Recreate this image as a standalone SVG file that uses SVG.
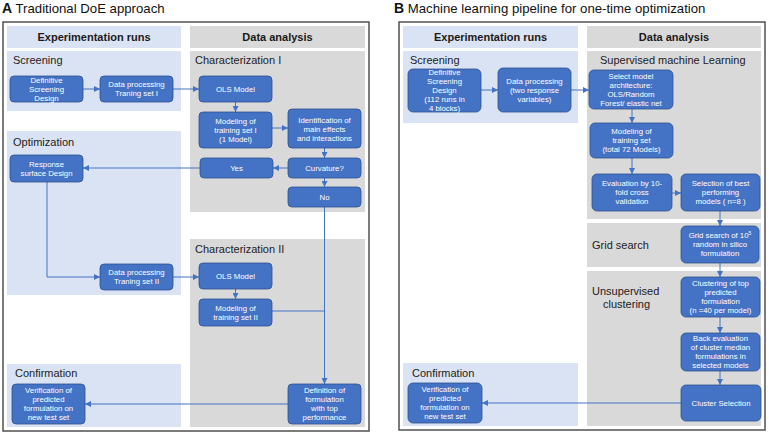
<svg xmlns="http://www.w3.org/2000/svg" width="769" height="433" viewBox="0 0 769 433">
<defs>
<marker id="ah" markerUnits="userSpaceOnUse" markerWidth="6" markerHeight="6" viewBox="0 0 6 6" refX="6" refY="3" orient="auto">
<path d="M0,0 L6,3 L0,6 z" fill="#4472c4"/>
</marker>
<style>
.title{font-family:"Liberation Sans",Arial,sans-serif;font-size:13.2px;fill:#111}
.tb{font-weight:bold}
.frame{fill:#fff;stroke:#505050;stroke-width:1.5}
.bb{fill:#dae3f3}
.bg{fill:#d9d9d9}
.hd{font-family:"Liberation Sans",Arial,sans-serif;font-size:11px;font-weight:bold;fill:#1a1a1a;text-anchor:middle}
.sl{font-family:"Liberation Sans",Arial,sans-serif;font-size:11px;fill:#222}
.nd rect{fill:#4472c4;stroke:#2f528f;stroke-width:0.8}
.nd text{font-family:"Liberation Sans",Arial,sans-serif;font-size:7.8px;fill:#fff;text-anchor:middle}
.cn{fill:none;stroke:#4472c4;stroke-width:1}
</style>
</defs>

<!-- Panel A -->
<text class="title" x="2" y="13"><tspan class="tb" font-size="14">A</tspan> Traditional DoE approach</text>
<rect class="frame" x="3" y="22" width="366" height="409"/>
<rect class="bb" x="7" y="26" width="174" height="22"/>
<rect class="bg" x="190" y="26" width="175" height="22"/>
<text class="hd" x="94" y="41">Experimentation runs</text>
<text class="hd" x="277.5" y="41">Data analysis</text>
<rect class="bb" x="7" y="51" width="174" height="60"/>
<rect class="bg" x="190" y="51" width="175" height="161"/>
<rect class="bb" x="7" y="131" width="174" height="164"/>
<rect class="bg" x="190" y="239" width="175" height="188"/>
<rect class="bb" x="7" y="364" width="174" height="63"/>
<text class="sl" x="13" y="64">Screening</text>
<text class="sl" x="195" y="64">Characterization I</text>
<text class="sl" x="13" y="146">Optimization</text>
<text class="sl" x="195" y="253">Characterization II</text>
<text class="sl" x="15" y="377">Confirmation</text>

<!-- Panel B -->
<text class="title" x="394" y="13"><tspan class="tb" font-size="14">B</tspan> Machine learning pipeline for one-time optimization</text>
<rect class="frame" x="399" y="22" width="366" height="408"/>
<rect class="bb" x="403" y="26" width="175" height="22"/>
<rect class="bg" x="587" y="26" width="174" height="22"/>
<text class="hd" x="490.5" y="41">Experimentation runs</text>
<text class="hd" x="674" y="41">Data analysis</text>
<rect class="bb" x="403" y="51" width="175" height="72"/>
<rect class="bg" x="587" y="51" width="174" height="168"/>
<rect class="bg" x="587" y="223" width="174" height="44"/>
<rect class="bg" x="587" y="271" width="174" height="155"/>
<rect class="bb" x="403" y="363" width="175" height="63"/>
<text class="sl" x="410" y="64">Screening</text>
<text class="sl" x="600" y="64">Supervised machine Learning</text>
<text class="sl" x="592" y="249">Grid search</text>
<text class="sl" x="592" y="295">Unsupervised</text>
<text class="sl" x="603" y="308">clustering</text>
<text class="sl" x="412" y="377">Confirmation</text>

<!-- Connectors -->
<g id="connectors">
<path class="cn" marker-end="url(#ah)" d="M83,89 H100"/>
<path class="cn" marker-end="url(#ah)" d="M173,89 H199"/>
<path class="cn" marker-end="url(#ah)" d="M235.5,102 V112"/>
<path class="cn" marker-end="url(#ah)" d="M272,128 H288"/>
<path class="cn" marker-end="url(#ah)" d="M324.5,148 V158"/>
<path class="cn" marker-end="url(#ah)" d="M288,168 H273"/>
<path class="cn" marker-end="url(#ah)" d="M200,168 H83"/>
<path class="cn" marker-end="url(#ah)" d="M324.5,178 V187"/>
<path class="cn" marker-end="url(#ah)" d="M47,182 V277 H100"/>
<path class="cn" marker-end="url(#ah)" d="M173,277 H199"/>
<path class="cn" marker-end="url(#ah)" d="M235.5,289 V299"/>
<path class="cn" marker-end="url(#ah)" d="M324.5,207 V384"/>
<path class="cn" d="M272,311 H324.5"/>
<path class="cn" marker-end="url(#ah)" d="M288,404 H85"/>

<path class="cn" marker-end="url(#ah)" d="M481,90 H498"/>
<path class="cn" marker-end="url(#ah)" d="M571,90 H589"/>
<path class="cn" marker-end="url(#ah)" d="M632,109 V123"/>
<path class="cn" marker-end="url(#ah)" d="M632,158 V174"/>
<path class="cn" marker-end="url(#ah)" d="M672,193 H681"/>
<path class="cn" marker-end="url(#ah)" d="M720,211 V226"/>
<path class="cn" marker-end="url(#ah)" d="M720,263 V277"/>
<path class="cn" marker-end="url(#ah)" d="M720,317 V333"/>
<path class="cn" marker-end="url(#ah)" d="M720,371 V385"/>
<path class="cn" marker-end="url(#ah)" d="M681,403 H482"/>
</g>

<!-- Nodes panel A -->
<g id="a-dsd" class="nd"><rect x="10" y="76" width="73" height="26" rx="4"/><text x="46.5" y="82.9">Definitive</text><text x="46.5" y="91.7">Screening</text><text x="46.5" y="100.5">Design</text></g>
<g id="a-dp1" class="nd"><rect x="100" y="76" width="73" height="26" rx="4"/><text x="136.5" y="87.2">Data processing</text><text x="136.5" y="96.2">Traning set I</text></g>
<g id="a-ols1" class="nd"><rect x="199" y="76" width="73" height="26" rx="4"/><text x="235.5" y="91.7">OLS Model</text></g>
<g id="a-mod1" class="nd"><rect x="199" y="112" width="73" height="36" rx="4"/><text x="235.5" y="123.7">Modeling of</text><text x="235.5" y="132.7">training set I</text><text x="235.5" y="141.7">(1 Model)</text></g>
<g id="a-ident" class="nd"><rect x="288" y="109" width="73" height="39" rx="4"/><text x="324.5" y="122.7">Identification  of</text><text x="324.5" y="131.7">main effects</text><text x="324.5" y="140.7">and interactions</text></g>
<g id="a-rsd" class="nd"><rect x="10" y="155" width="73" height="27" rx="4"/><text x="46.5" y="166.5">Response</text><text x="46.5" y="175.5">surface Design</text></g>
<g id="a-yes" class="nd"><rect x="200" y="158" width="73" height="20" rx="4"/><text x="236.5" y="170.7">Yes</text></g>
<g id="a-curv" class="nd"><rect x="288" y="158" width="73" height="20" rx="4"/><text x="324.5" y="170.7">Curvature?</text></g>
<g id="a-no" class="nd"><rect x="288" y="187" width="73" height="20" rx="4"/><text x="324.5" y="199.7">No</text></g>
<g id="a-dp2" class="nd"><rect x="100" y="264" width="73" height="26" rx="4"/><text x="136.5" y="275.2">Data processing</text><text x="136.5" y="284.2">Traning set II</text></g>
<g id="a-ols2" class="nd"><rect x="199" y="263" width="73" height="26" rx="4"/><text x="235.5" y="278.7">OLS Model</text></g>
<g id="a-mod2" class="nd"><rect x="199" y="299" width="73" height="27" rx="4"/><text x="235.5" y="310.7">Modeling of</text><text x="235.5" y="319.7">training set II</text></g>
<g id="a-verif" class="nd"><rect x="12" y="384" width="73" height="40" rx="4"/><text x="48.5" y="392.7">Verification of</text><text x="48.5" y="401.7">predicted</text><text x="48.5" y="410.7">formulation on</text><text x="48.5" y="419.7">new test set</text></g>
<g id="a-def" class="nd"><rect x="288" y="384" width="73" height="40" rx="4"/><text x="324.5" y="392.7">Definition of</text><text x="324.5" y="401.7">formulation</text><text x="324.5" y="410.7">with top</text><text x="324.5" y="419.7">performance</text></g>

<!-- Nodes panel B -->
<g id="b-dsd" class="nd"><rect x="408" y="69" width="73" height="43" rx="5"/><text x="444.5" y="75.2">Definitive</text><text x="444.5" y="84.2">Screening</text><text x="444.5" y="93.2">Design</text><text x="444.5" y="102.2">(112 runs in</text><text x="444.5" y="111.2">4 blocks)</text></g>
<g id="b-dp" class="nd"><rect x="498" y="68" width="73" height="44" rx="5"/><text x="534.5" y="84.4">Data processing</text><text x="534.5" y="93.4">(two response</text><text x="534.5" y="102.4">variables)</text></g>
<g id="b-select" class="nd"><rect x="589" y="70" width="84" height="39" rx="5"/><text x="631" y="78.7">Select model</text><text x="631" y="87.7">architecture:</text><text x="631" y="96.7">OLS/Random</text><text x="631" y="105.7">Forest/ elastic net</text></g>
<g id="b-mod" class="nd"><rect x="590" y="123" width="83" height="35" rx="5"/><text x="631.5" y="134.2">Modeling of</text><text x="631.5" y="143.2">training set</text><text x="631.5" y="152.2">(total 72 Models)</text></g>
<g id="b-eval" class="nd"><rect x="592" y="174" width="80" height="37" rx="5"/><text x="632" y="186">Evaluation by 10-</text><text x="632" y="195">fold cross</text><text x="632" y="204">validation</text></g>
<g id="b-sel" class="nd"><rect x="681" y="174" width="79" height="37" rx="5"/><text x="720.5" y="186">Selection of best</text><text x="720.5" y="195">performing</text><text x="720.5" y="204">models ( n=8 )</text></g>
<g id="b-grid" class="nd"><rect x="681" y="226" width="78" height="37" rx="5"/><text x="720" y="238.2">Grid search of 10<tspan font-size="5" dy="-3">5</tspan></text><text x="720" y="247.2">random in silico</text><text x="720" y="256.2">formulation</text></g>
<g id="b-clust" class="nd"><rect x="681" y="277" width="79" height="40" rx="5"/><text x="720.5" y="286.2">Clustering of top</text><text x="720.5" y="295.2">predicted</text><text x="720.5" y="304.2">formulation</text><text x="720.5" y="313.2">(n =40 per model)</text></g>
<g id="b-back" class="nd"><rect x="681" y="333" width="79" height="38" rx="5"/><text x="720.5" y="341.2">Back evaluation</text><text x="720.5" y="350.2">of cluster median</text><text x="720.5" y="359.2">formulations in</text><text x="720.5" y="368.2">selected models</text></g>
<g id="b-csel" class="nd"><rect x="681" y="385" width="80" height="36" rx="5"/><text x="721" y="405.7">Cluster Selection</text></g>
<g id="b-verif" class="nd"><rect x="408" y="383" width="74" height="40" rx="5"/><text x="445" y="392.2">Verification of</text><text x="445" y="401.2">predicted</text><text x="445" y="410.2">formulation on</text><text x="445" y="419.2">new test set</text></g>
</svg>
